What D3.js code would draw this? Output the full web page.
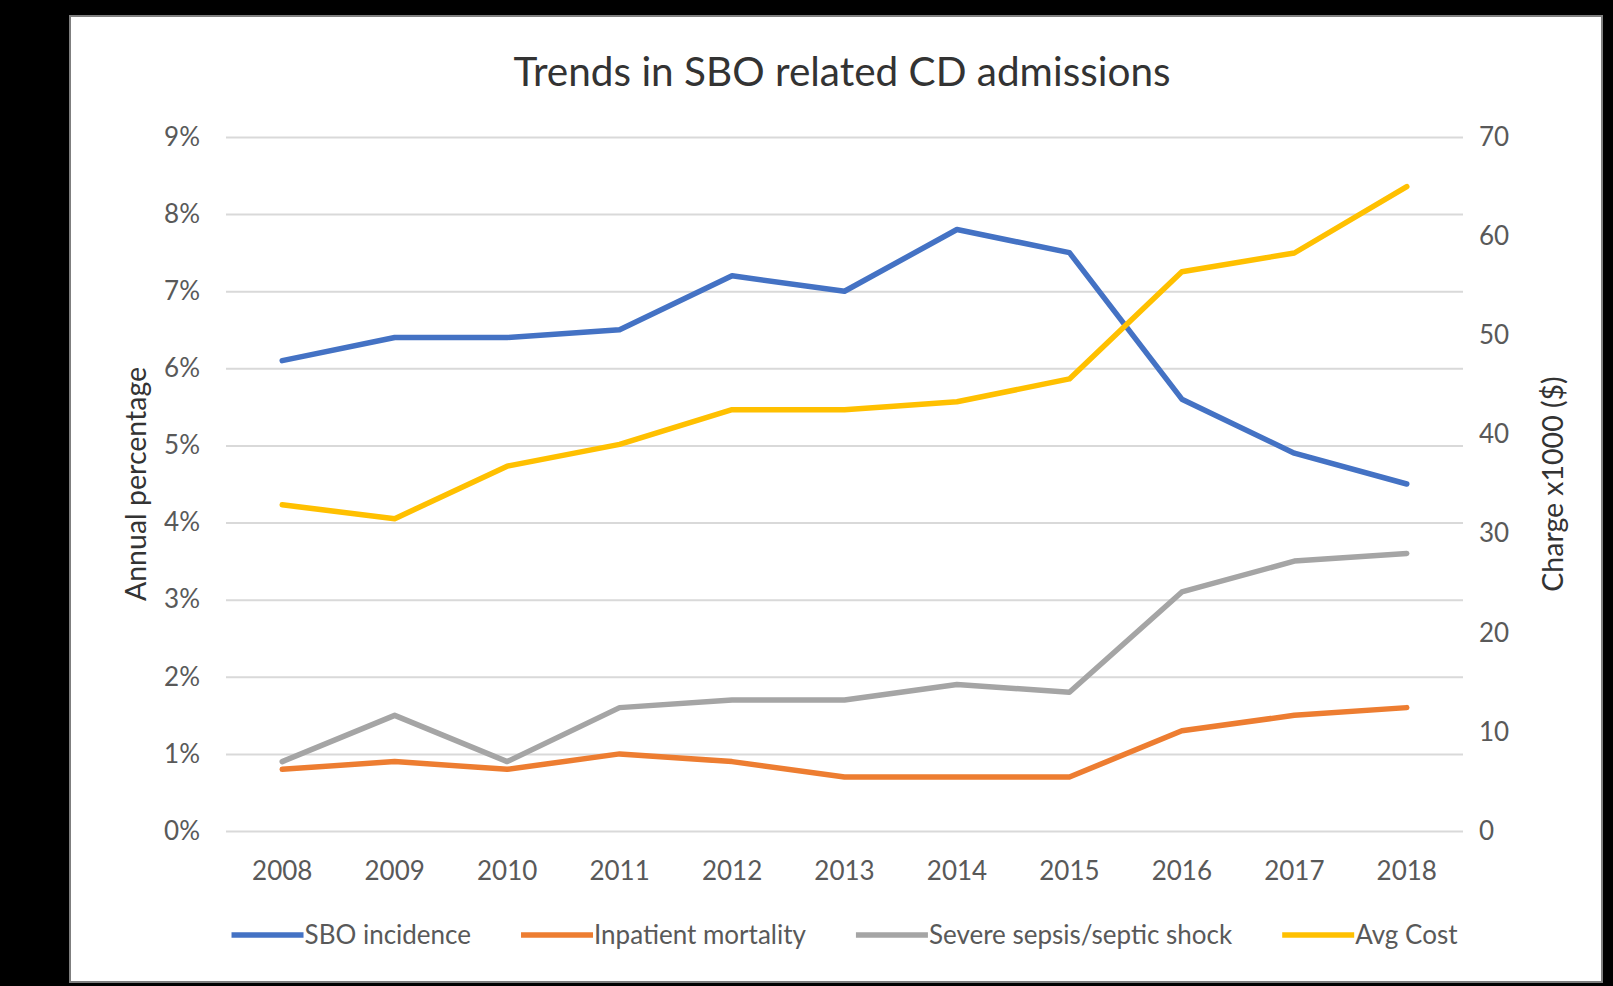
<!DOCTYPE html>
<meta charset="utf-8">
<script src="https://d3js.org/d3.v7.min.js"></script>
<style>
  body { margin: 0; background: #000; }
  text { font-family: Lato, "Open Sans", sans-serif; }
</style>
<div id="chart"></div>
<script>
// data
var years = ["2008","2009","2010","2011","2012","2013","2014","2015","2016","2017","2018"];
var sboIncidence = [6.1, 6.4, 6.4, 6.5, 7.2, 7.0, 7.8, 7.5, 5.6, 4.9, 4.5];
var inpatientMortality = [0.8, 0.9, 0.8, 1.0, 0.9, 0.7, 0.7, 0.7, 1.3, 1.5, 1.6];
var severeSepsis = [0.9, 1.5, 0.9, 1.6, 1.7, 1.7, 1.9, 1.8, 3.1, 3.5, 3.6];
var avgCost = [32.9, 31.5, 36.8, 39.0, 42.5, 42.5, 43.3, 45.6, 56.4, 58.3, 65.0];
var leftTicks = [0, 1, 2, 3, 4, 5, 6, 7, 8, 9];
var rightTicks = [0, 10, 20, 30, 40, 50, 60, 70];

var series = [
  {name: "SBO incidence", values: sboIncidence, axis: "left", color: "#4472c4"},
  {name: "Inpatient mortality", values: inpatientMortality, axis: "left", color: "#ed7d31"},
  {name: "Severe sepsis/septic shock", values: severeSepsis, axis: "left", color: "#a5a5a5"},
  {name: "Avg Cost", values: avgCost, axis: "right", color: "#ffc000"}
];

var W = 1613, H = 986;
var plot = {left: 226, right: 1463, top: 137, bottom: 831};
var fs = "26px";

var svg = d3.select("#chart").append("svg")
    .attr("width", W).attr("height", H);

// white panel
svg.append("rect")
    .attr("x", 70).attr("y", 16)
    .attr("width", 1532).attr("height", 966)
    .attr("fill", "#fff")
    .attr("stroke", "#7f7f7f").attr("stroke-width", 2);

var x = d3.scaleBand().domain(years).range([plot.left, plot.right]);
var yL = d3.scaleLinear().domain([0, 9]).range([plot.bottom, plot.top]);
var yR = d3.scaleLinear().domain([0, 70]).range([plot.bottom, plot.top]);

// gridlines + left axis
var gl = svg.append("g")
    .attr("transform", "translate(" + plot.left + ",0)")
    .call(d3.axisLeft(yL).tickValues(leftTicks)
      .tickSize(-(plot.right - plot.left)).tickPadding(26)
      .tickFormat(function(d){ return d + "%"; }));
gl.select(".domain").remove();
gl.selectAll("line").attr("stroke", "#d9d9d9").attr("stroke-width", 2);
gl.selectAll("text").attr("fill", "#595959").style("font-size", fs);

// right axis labels
var gr = svg.append("g")
    .attr("transform", "translate(" + plot.right + ",0)")
    .call(d3.axisRight(yR).tickValues(rightTicks).tickSize(0).tickPadding(16));
gr.select(".domain").remove();
gr.selectAll("text").attr("fill", "#595959").style("font-size", fs);

// x axis labels
var gx = svg.append("g")
    .attr("transform", "translate(0," + plot.bottom + ")")
    .call(d3.axisBottom(x).tickSize(0).tickPadding(31));
gx.select(".domain").remove();
gx.selectAll("text").attr("fill", "#595959").style("font-size", fs);

// lines
var line = function(scale) {
  return d3.line()
    .x(function(d, i){ return x(years[i]) + x.bandwidth() / 2; })
    .y(function(d){ return scale(d); });
};
series.forEach(function(s) {
  svg.append("path")
    .datum(s.values)
    .attr("fill", "none")
    .attr("stroke", s.color)
    .attr("stroke-width", 5.5)
    .attr("stroke-linejoin", "round")
    .attr("stroke-linecap", "round")
    .attr("d", line(s.axis === "left" ? yL : yR));
});

// title
svg.append("text")
    .attr("x", 842).attr("y", 86)
    .attr("text-anchor", "middle")
    .attr("fill", "#333")
    .style("font-size", "40.5px")
    .text("Trends in SBO related CD admissions");

// axis titles
svg.append("text")
    .attr("transform", "translate(146," + ((plot.top + plot.bottom) / 2) + ") rotate(-90)")
    .attr("text-anchor", "middle")
    .attr("fill", "#333")
    .style("font-size", "28.5px")
    .text("Annual percentage");
svg.append("text")
    .attr("transform", "translate(1563," + ((plot.top + plot.bottom) / 2) + ") rotate(-90)")
    .attr("text-anchor", "middle")
    .attr("fill", "#333")
    .style("font-size", "28.5px")
    .text("Charge x1000 ($)");

// legend, centred under the plot
var legend = svg.append("g");
var lx = 0, gap = 50, sample = 72;
series.forEach(function(s) {
  var item = legend.append("g").attr("transform", "translate(" + lx + ",0)");
  item.append("line")
    .attr("x1", 0).attr("x2", sample)
    .attr("stroke", s.color).attr("stroke-width", 5.5);
  var t = item.append("text")
    .attr("x", sample + 1).attr("dy", "0.35em")
    .attr("fill", "#595959")
    .style("font-size", fs)
    .text(s.name);
  lx += sample + 1 + t.node().getComputedTextLength() + gap;
});
lx -= gap;
legend.attr("transform", "translate(" + ((plot.left + plot.right) / 2 - lx / 2) + ",935)");
</script>
